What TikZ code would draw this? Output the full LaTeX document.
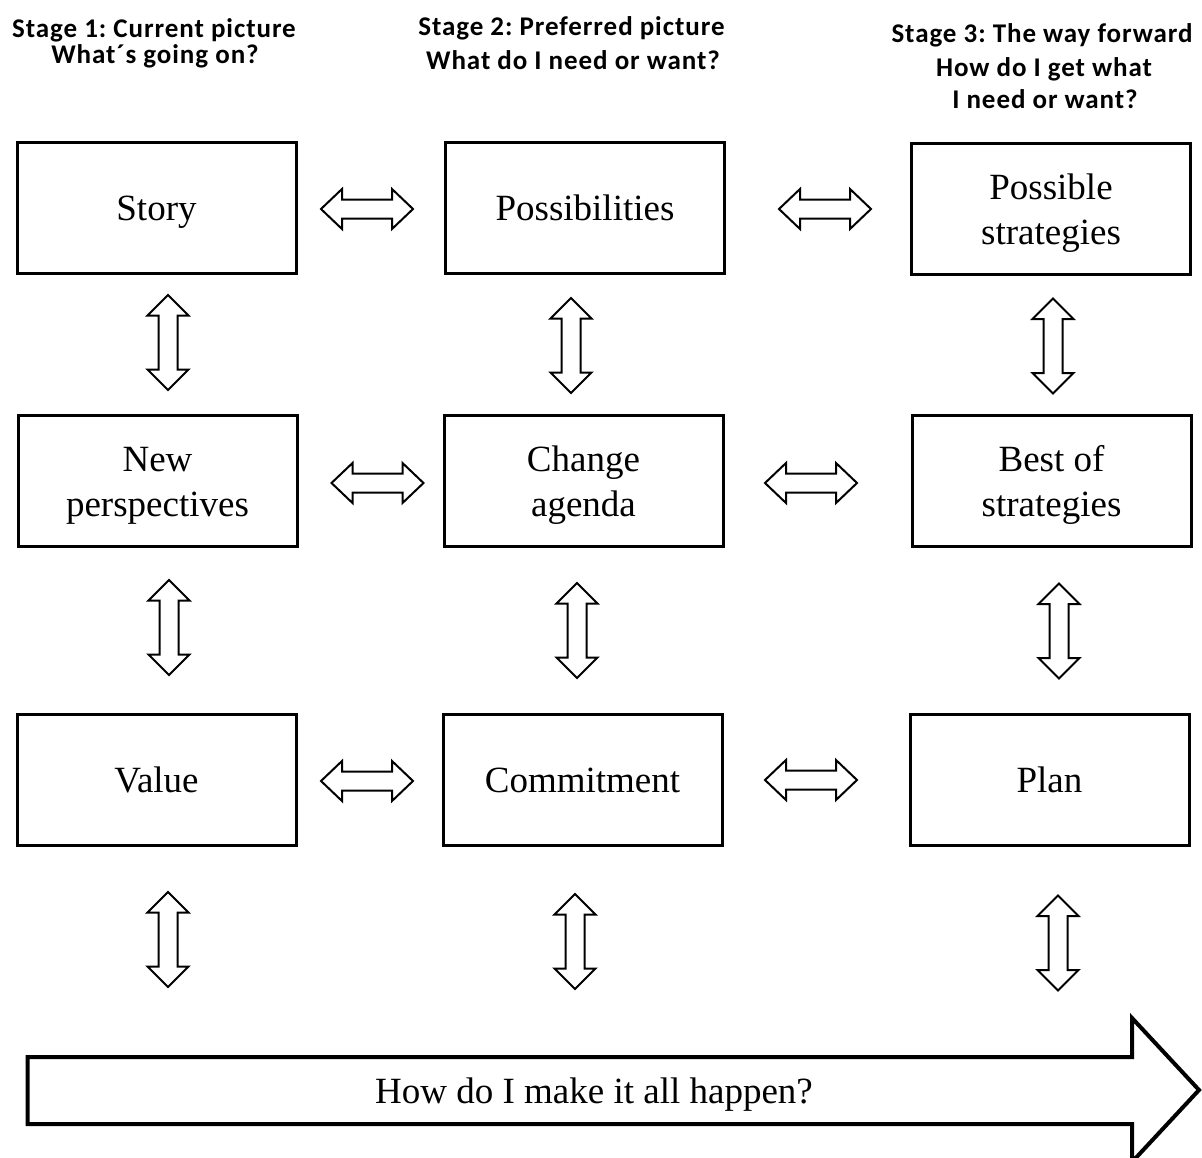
\documentclass[tikz,border=0pt]{standalone}
\usepackage{fontspec}
\setmainfont{Liberation Serif}
\newfontfamily\hdfont{Carlito}[LetterSpace=3.5]
\frenchspacing
\begin{document}
\begin{tikzpicture}[x=1pt,y=-1pt,
  box/.style={draw=black, line width=3pt, minimum width=279pt, minimum height=131pt,
    inner sep=0pt, text height=25pt, text depth=0pt,
    font=\fontsize{37}{45}\selectfont, align=center},
  twoline/.style={text depth=45pt},
  hd/.style={anchor=base, inner sep=0pt, font=\hdfont\bfseries\fontsize{27}{30}\selectfont},
  smallarr/.style={draw=black, line width=2pt, fill=white, line join=miter},
  harr/.pic={\draw[smallarr] (-46,0) -- (-25,-20) -- (-25,-9.5) -- (25,-9.5) -- (25,-20) -- (46,0)
      -- (25,20) -- (25,9.5) -- (-25,9.5) -- (-25,20) -- cycle;},
  varr/.pic={\draw[smallarr] (0,-47.5) -- (20.5,-27) -- (9.5,-27) -- (9.5,27) -- (20.5,27) -- (0,47.5)
      -- (-20.5,27) -- (-9.5,27) -- (-9.5,-27) -- (-20.5,-27) -- cycle;}
]
\useasboundingbox (0,0) rectangle (1202,1157);

% headers
\node[hd] (h1a) at (154,37) {Stage 1: Current picture};
\node[hd] (h1b) at (155,63) {What´s going on?};
\node[hd] (h2a) at (571.5,35) {Stage 2: Preferred picture};
\node[hd] (h2b) at (573,69) {What do I need or want?};
\node[hd] (h3a) at (1042,42) {Stage 3: The way forward};
\node[hd] (h3b) at (1044,76) {How do I get what};
\node[hd] (h3c) at (1045,108) {I need or want?};

% boxes
\node[box] (story) at (156.5,208) {Story};
\node[box] (poss) at (585,208) {Possibilities};
\node[box,twoline] (pstrat) at (1051,209) {\begin{tabular}[t]{@{}c@{}}Possible\\strategies\end{tabular}};
\node[box,twoline] (newp) at (157.5,481) {\begin{tabular}[t]{@{}c@{}}New\\perspectives\end{tabular}};
\node[box,twoline] (change) at (583.5,481) {\begin{tabular}[t]{@{}c@{}}Change\\agenda\end{tabular}};
\node[box,twoline] (best) at (1051.5,481) {\begin{tabular}[t]{@{}c@{}}Best of\\strategies\end{tabular}};
\node[box] (value) at (156.5,780) {Value};
\node[box] (commit) at (582.5,780) {Commitment};
\node[box] (plan) at (1049.5,780) {Plan};

% horizontal double arrows
\pic (r1a) at (367,209) {harr};
\pic (r1b) at (825,209) {harr};
\pic (r2a) at (377.5,483) {harr};
\pic (r2b) at (811,483) {harr};
\pic (r3a) at (367,781) {harr};
\pic (r3b) at (811,780) {harr};

% vertical double arrows
\pic (c1a) at (168,342.5) {varr};
\pic (c1b) at (169,627.5) {varr};
\pic (c1c) at (168,939.5) {varr};
\pic (c2a) at (571,345.5) {varr};
\pic (c2b) at (577,630.5) {varr};
\pic (c2c) at (575,941.5) {varr};
\pic (c3a) at (1053,346) {varr};
\pic (c3b) at (1059,631) {varr};
\pic (c3c) at (1058,943) {varr};

% big arrow
\draw[line width=4pt, line join=miter] (27.5,1057) -- (1132,1057) -- (1132,1018) -- (1199,1090)
  -- (1132,1162) -- (1132,1124) -- (27.5,1124) -- cycle;
\node[anchor=base, inner sep=0pt, font=\fontsize{37}{45}\selectfont] (happen) at (594,1103) {How do I make it all happen?};
\end{tikzpicture}
\end{document}
